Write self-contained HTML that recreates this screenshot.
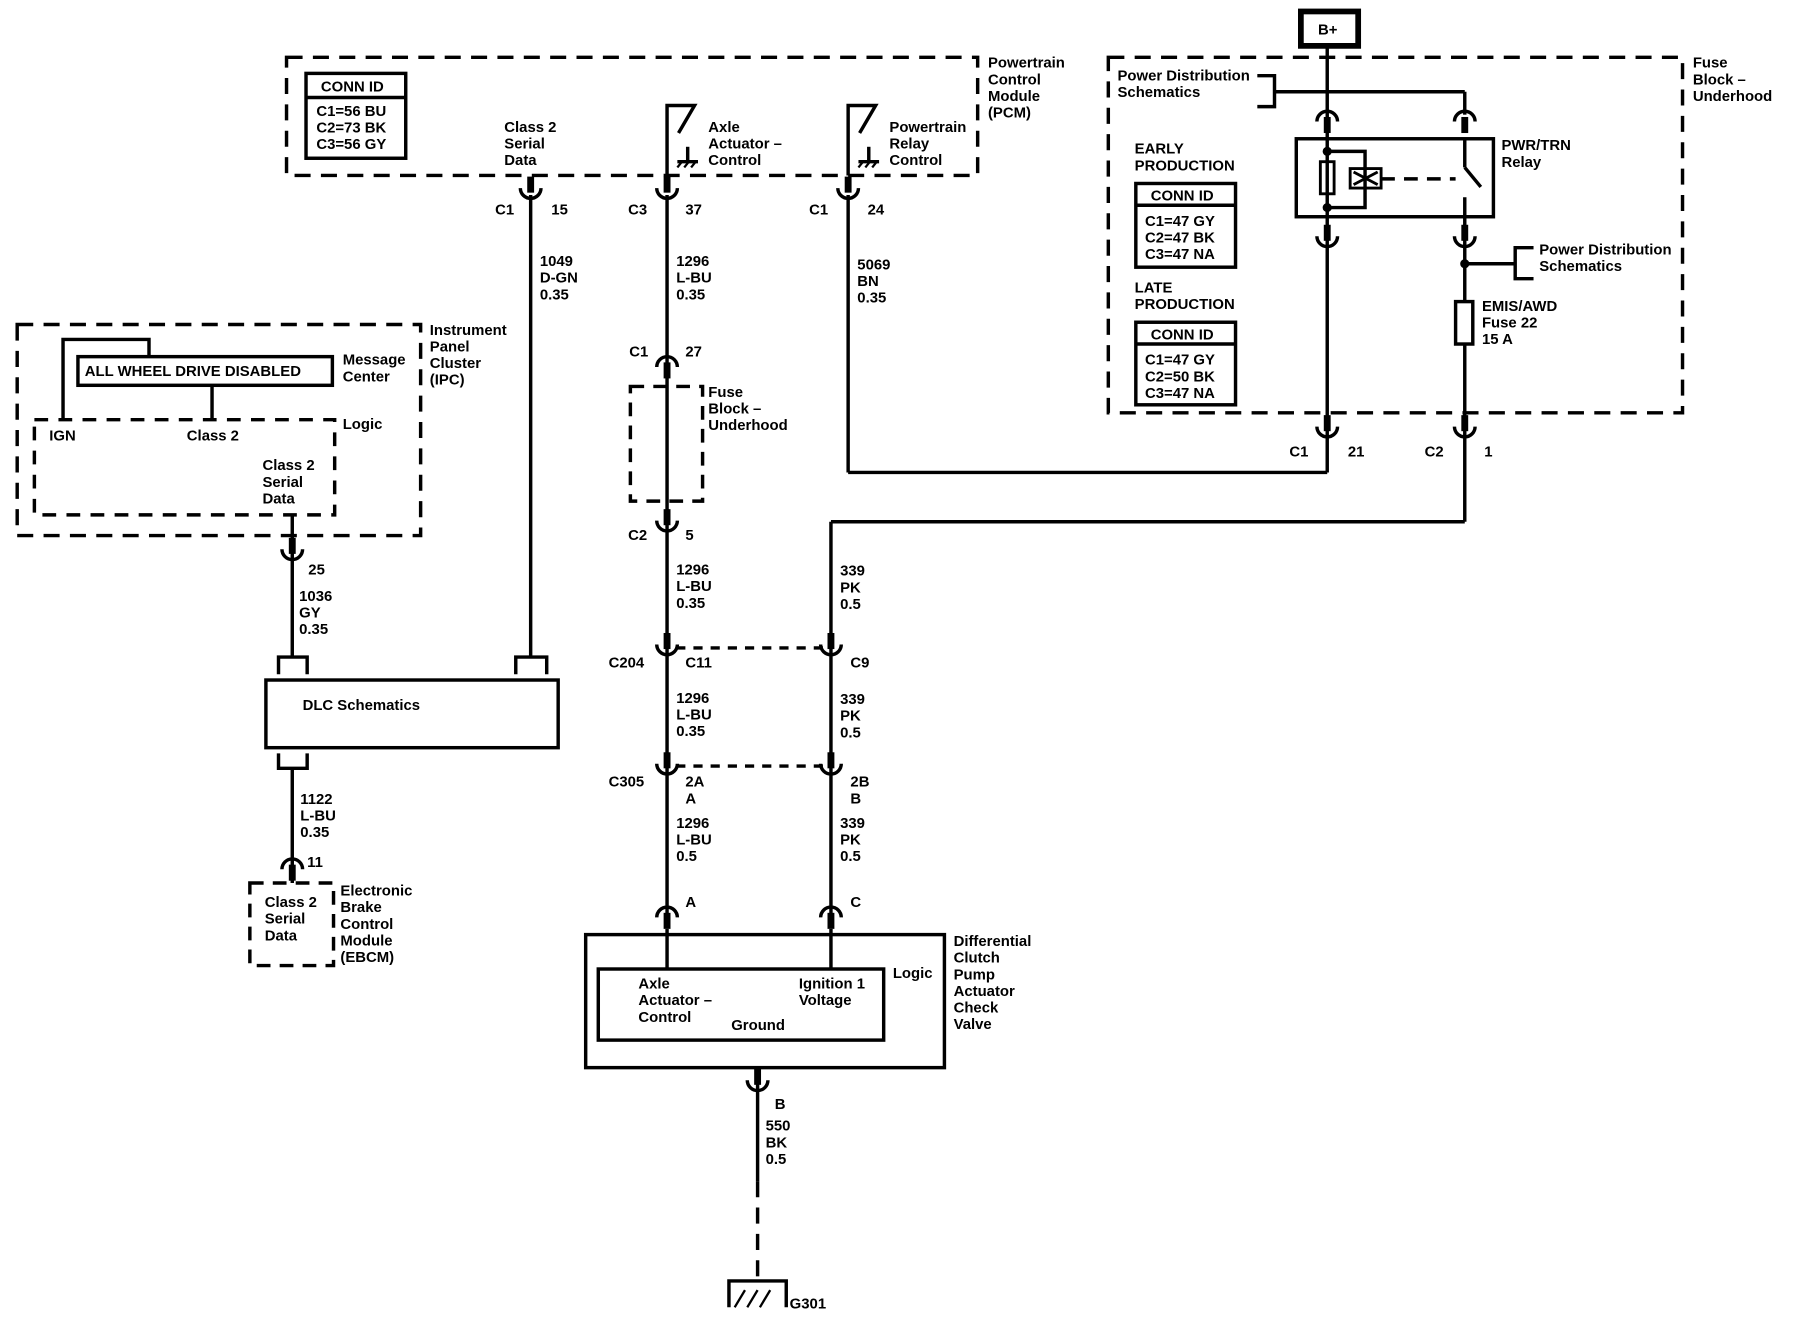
<!DOCTYPE html>
<html><head><meta charset="utf-8"><style>
html,body{margin:0;padding:0;background:#fff;}
svg{display:block;}
text{font-family:"Liberation Sans",Arial,sans-serif;font-size:13px;font-weight:bold;fill:#000;}
</style></head><body>
<svg id="s" width="1796" height="1344" viewBox="0 0 1567 1172" preserveAspectRatio="none" xmlns="http://www.w3.org/2000/svg">
<g id="g" fill="none" stroke="#000" stroke-width="3"></g>
<g id="t"></g>
</svg>
<script>
const g=document.getElementById('g'),t=document.getElementById('t'),NS='http://www.w3.org/2000/svg';
function el(p,tag,a){const e=document.createElementNS(NS,tag);for(const k in a)e.setAttribute(k,a[k]);p.appendChild(e);return e;}
function L(x1,y1,x2,y2,w,d){const a={x1,y1,x2,y2};if(w)a['stroke-width']=w;if(d)a['stroke-dasharray']=d;el(g,'line',a);}
function R(x,y,w,h,sw,d){const a={x,y,width:w,height:h};if(sw)a['stroke-width']=sw;if(d)a['stroke-dasharray']=d;el(g,'rect',a);}
function P(d,sw){const a={d};if(sw)a['stroke-width']=sw;el(g,'path',a);}
function T(x,y,s,sz){const lines=s.split('|');lines.forEach((l,i)=>{const e=el(t,'text',{x,y:y+i*14.5});if(sz)e.style.fontSize=sz+'px';e.textContent=l;});}
const D='14 9';
function C(x,y,dir){
 if(dir=='down'){L(x,y-16,x,y-2,6);P(`M${x-9},${y-6} A9,9 0 0 0 ${x+9},${y-6}`);}
 else{L(x,y+2,x,y+16,6);P(`M${x-9},${y+6} A9,9 0 0 1 ${x+9},${y+6}`);}
}
R(250,50,603,103,3,D);
T(862,59,'Powertrain|Control|Module|(PCM)');
R(267,64,87,74);L(267,85,354,85);
T(280,80,'CONN ID');T(276,101,'C1=56 BU|C2=73 BK|C3=56 GY');
T(440,115,'Class 2|Serial|Data');
function SW(x){P(`M${x},153 V92 H${x+24} L${x+10},116`);L(x+18,128,x+18,141);L(x+9,141,x+27,141);L(x+9,146,x+13,141,2);L(x+15,146,x+19,141,2);L(x+21,146,x+25,141,2);}
SW(582);SW(740);
T(618,115,'Axle|Actuator –|Control');T(776,115,'Powertrain|Relay|Control');
C(463,170,'down');C(582,170,'down');C(740,170,'down');
T(432,187,'C1');T(481,187,'15');T(548,187,'C3');T(598,187,'37');T(706,187,'C1');T(757,187,'24');
L(463,170,463,572);T(471,232,'1049|D-GN|0.35');
L(582,170,582,797);T(590,232,'1296|L-BU|0.35');
C(582,314,'up');T(549,311,'C1');T(598,311,'27');
R(550,337,63,100,3,'12 8');T(618,346,'Fuse|Block –|Underhood');
C(582,460,'down');T(548,471,'C2');T(598,471,'5');
T(590,501,'1296|L-BU|0.35');
C(582,568,'down');T(531,582,'C204');T(598,582,'C11');
T(590,613,'1296|L-BU|0.35');
C(582,672,'down');T(531,686,'C305');T(598,686,'2A|A');
T(590,722,'1296|L-BU|0.5');
C(582,794,'up');T(598,791,'A');
L(740,170,740,412);L(740,412,1158,412);T(748,235,'5069|BN|0.35');
L(1278,378,1278,455);L(1278,455,725,455);L(725,455,725,797);
T(733,502,'339|PK|0.5');C(725,568,'down');T(742,582,'C9');
T(733,614,'339|PK|0.5');C(725,672,'down');T(742,686,'2B|B');
T(733,722,'339|PK|0.5');C(725,794,'up');T(742,791,'C');
L(590,565,718,565,3,'8 7');L(590,668,718,668,3,'8 7');
R(967,50,501,310,3,D);T(1477,59,'Fuse|Block –|Underhood');
R(1135,10,50,30,5);T(1150,30,'B+');
L(1158,40,1158,412);L(1112,80,1278,80);L(1278,80,1278,100);
P('M1097,66 H1112 V93 H1097');T(975,70,'Power Distribution|Schematics');
C(1158,100,'up');C(1278,100,'up');
L(1278,189,1278,378);
R(1131,121,172,68);
P('M1158,132 H1191 V181 H1158');R(1152,141,12,28,2.5);
R(1178,147,27,17,2.5);L(1181,150,1202,161,2.5);L(1181,161,1202,150,2.5);
L(1205,156,1270,156,3,'12 8');L(1278,121,1278,146);L(1278,146,1292,163);L(1278,172,1278,189);
el(g,'circle',{cx:1158,cy:132,r:2.5,fill:'#000'});el(g,'circle',{cx:1158,cy:181,r:2.5,fill:'#000'});
T(1310,131,'PWR/TRN|Relay');
C(1158,212,'down');C(1278,212,'down');
L(1278,230,1322,230);el(g,'circle',{cx:1278,cy:230,r:2.5,fill:'#000'});
P('M1338,216 H1322 V243 H1338');T(1343,222,'Power Distribution|Schematics');
el(g,'rect',{x:1270,y:263,width:15,height:37,fill:'#fff'});T(1293,271,'EMIS/AWD|Fuse 22|15 A');
T(990,134,'EARLY|PRODUCTION');R(991,160,87,73);L(991,179,1078,179);T(1004,175,'CONN ID');T(999,197,'C1=47 GY|C2=47 BK|C3=47 NA');
T(990,255,'LATE|PRODUCTION');R(991,281,87,72);L(991,300,1078,300);T(1004,296,'CONN ID');T(999,318,'C1=47 GY|C2=50 BK|C3=47 NA');
C(1158,378,'down');C(1278,378,'down');T(1125,398,'C1');T(1176,398,'21');T(1243,398,'C2');T(1295,398,'1');
R(15,283,352,184,3,D);T(375,292,'Instrument|Panel|Cluster|(IPC)');
R(68,311,222,25);T(74,328,'ALL WHEEL DRIVE DISABLED');
P('M55,366 V296 H130 V311');L(185,336,185,366);
R(30,366,262,83,3,'12 9');T(43,384,'IGN');T(163,384,'Class 2');T(229,410,'Class 2|Serial|Data');
T(299,318,'Message|Center');T(299,374,'Logic');
L(255,449,255,572);C(255,485,'down');T(269,501,'25');T(261,524,'1036|GY|0.35');
R(232,593,255,59);T(264,619,'DLC Schematics');
P('M243,588 V573 H268 V588');P('M450,588 V573 H477 V588');
P('M243,657 V670 H268 V657');
L(255,670,255,770);T(262,701,'1122|L-BU|0.35');
C(255,752,'up');T(268,756,'11');
R(218,770,73,72,3,'12 8');T(231,791,'Class 2|Serial|Data');T(297,781,'Electronic|Brake|Control|Module|(EBCM)');
R(511,815,313,116);R(522,845,249,62);
L(582,810,582,845);L(725,810,725,845);
T(557,862,'Axle|Actuator –|Control');T(697,862,'Ignition 1|Voltage');T(638,898,'Ground');T(779,853,'Logic');
T(832,825,'Differential|Clutch|Pump|Actuator|Check|Valve');
C(661,948,'down');L(661,931,661,1030);L(661,1030,661,1115,3,'14 9');
T(676,967,'B');T(668,986,'550|BK|0.5');
P('M636,1140 V1117 H686 V1140');L(641,1140,650,1125,2);L(652,1140,661,1125,2);L(663,1140,672,1125,2);
T(689,1141,'G301');
</script>
</body></html>
